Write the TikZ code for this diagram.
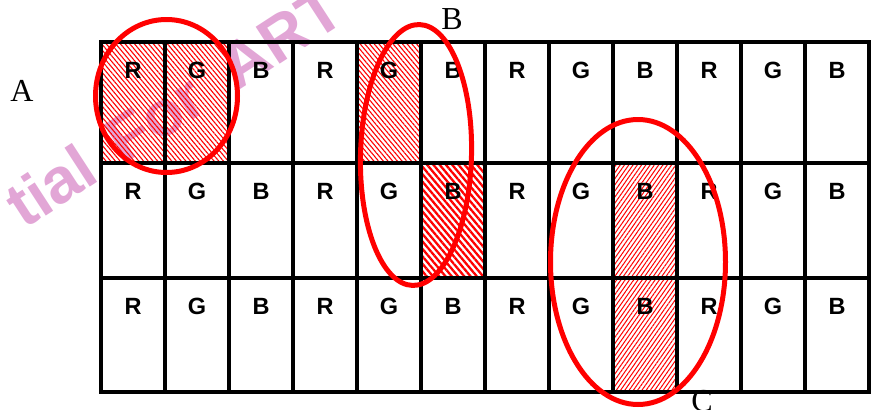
\documentclass[tikz,border=0pt]{standalone}
\usepackage{fontspec}
\setmainfont{Liberation Serif}
\setsansfont{Liberation Sans}
\usetikzlibrary{patterns.meta}
\definecolor{markpink}{RGB}{226,166,214}
\tikzset {
  grid/.style={line width=3.2pt},
  ring/.style={red,line width=5pt},
  letter/.style={font=\sffamily\bfseries\fontsize{23.5}{23.5}\selectfont,inner sep=0pt},
  tag/.style={font=\fontsize{32}{32}\selectfont,inner sep=0pt},
  stamp/.style={font=\sffamily\bfseries\fontsize{64}{64}\selectfont,text=markpink,inner sep=0pt},
  hatchA/.style={pattern={Lines[angle=-50,distance=3.6pt,line width=1.1pt]},pattern color=red},
  hatchB/.style={pattern={Lines[angle=-50,distance=4.8pt,line width=2.3pt]},pattern color=red},
  hatchC/.style={pattern={Lines[angle=55,distance=3.5pt,line width=1pt]},pattern color=red},
}

\begin{document}
\begin{tikzpicture}[x=1pt,y=-1pt]
  \useasboundingbox (0,0) rectangle (871,410);

  % watermark sits under everything
  \begin{scope}
    \clip (0,0) rectangle (871,410);
    \node[stamp,rotate=33,anchor=base west] (wm) at (24,230)
      {tial\hspace{0.42em}For\hspace{0.5em}ART\hspace{0.42em}C};
  \end{scope}

  % hatched sub-pixels
  \fill[hatchA] (101,42) rectangle (229,163);
  \fill[hatchA] (357,42) rectangle (421,163);
  \fill[hatchB] (421,163) rectangle (485,278);
  \fill[hatchC] (613,163) rectangle (677,392);

  % pixel grid
  \draw[grid] (101,42) rectangle (869,392);
  \foreach \c in {1,...,11}
    \draw[grid] (101+64*\c,42) -- (101+64*\c,392);
  \foreach \y in {163,278}
    \draw[grid] (101,\y) -- (869,\y);

  \foreach \r/\y in {1/70,2/191,3/306}
    \foreach \t [count=\c from 0] in {R,G,B,R,G,B,R,G,B,R,G,B}
      \node[letter] (l-\r-\c) at (133+64*\c,\y) {\t};

  % the three groupings
  \draw[ring] (166.5,96) ellipse [x radius=71,y radius=76.5];
  \draw[ring,rotate around={-1.5:(416,155)}] (416,155) ellipse [x radius=55.5,y radius=130.5];
  \draw[ring] (638,262) ellipse [x radius=87.5,y radius=142.5];

  \node[tag] (labA) at (22,91) {A};
  \node[tag] (labB) at (452,19) {B};
  \node[tag] (labC) at (702,401) {C};
\end{tikzpicture}
\end{document}
